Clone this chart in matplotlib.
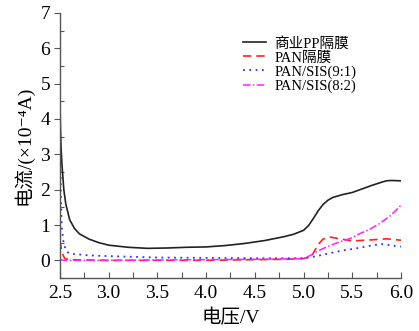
import matplotlib
matplotlib.use("Agg")
import matplotlib.pyplot as plt
from matplotlib.ticker import MultipleLocator

plt.rcParams['font.family'] = ['Liberation Serif', 'Noto Sans CJK SC', 'DejaVu Serif']

labels = ['商业PP隔膜', 'PAN隔膜', 'PAN/SIS(9:1)', 'PAN/SIS(8:2)']

pp_v = [2.5, 2.505, 2.51, 2.52, 2.54, 2.56, 2.6, 2.65, 2.7, 2.8, 2.9, 3.0, 3.2, 3.4, 3.6, 3.8,
        4.0, 4.2, 4.4, 4.6, 4.8, 4.9, 5.0, 5.05, 5.1, 5.15, 5.2, 5.25, 5.3, 5.4, 5.5, 5.6,
        5.7, 5.8, 5.85, 5.9, 6.0]
pp_i = [4.6, 3.8, 3.3, 2.75, 2.0, 1.6, 1.15, 0.9, 0.75, 0.6, 0.5, 0.43, 0.37, 0.34, 0.35, 0.37,
        0.38, 0.42, 0.48, 0.56, 0.67, 0.74, 0.85, 0.98, 1.18, 1.4, 1.58, 1.7, 1.78, 1.86, 1.92, 2.02,
        2.12, 2.21, 2.25, 2.26, 2.25]

pan_v = [2.5, 2.51, 2.52, 2.55, 2.6, 3.0, 3.5, 4.0, 4.5, 4.8, 5.0, 5.07, 5.1, 5.15, 5.2, 5.27,
         5.35, 5.5, 5.7, 5.85, 6.0]
pan_i = [0.55, 0.4, 0.22, 0.05, 0.02, 0.0, 0.0, 0.0, 0.02, 0.03, 0.05, 0.1, 0.2, 0.45, 0.6, 0.66,
         0.62, 0.55, 0.58, 0.61, 0.57]

s91_v = [2.5, 2.505, 2.51, 2.52, 2.54, 2.57, 2.6, 2.8, 3.0, 3.5, 4.0, 4.5, 5.0, 5.1, 5.2, 5.3,
         5.4, 5.5, 5.6, 5.7, 5.8, 5.85, 5.9, 6.0]
s91_i = [4.5, 3.0, 1.8, 0.9, 0.45, 0.25, 0.19, 0.14, 0.12, 0.08, 0.07, 0.06, 0.06, 0.1, 0.16, 0.22,
         0.28, 0.32, 0.37, 0.42, 0.46, 0.45, 0.42, 0.39]

s82_v = [2.5, 2.55, 3.0, 3.5, 4.0, 4.5, 5.0, 5.07, 5.15, 5.27, 5.38, 5.48, 5.58, 5.68, 5.785,
         5.9, 6.0]
s82_i = [0.02, 0.0, 0.0, 0.01, 0.02, 0.03, 0.05, 0.14, 0.27, 0.42, 0.53, 0.62, 0.76, 0.88, 1.05,
         1.28, 1.56]

x_ticks = [2.5, 3.0, 3.5, 4.0, 4.5, 5.0, 5.5, 6.0]
y_ticks = [0, 1, 2, 3, 4, 5, 6, 7]

fig = plt.figure(figsize=(4.19, 3.31), dpi=100)
ax = fig.add_axes([0.143, 0.16, 0.814, 0.801])

ax.plot(pp_v, pp_i, color='#222222', lw=1.2, ls='-', label=labels[0])
ax.plot(pan_v, pan_i, color='#ff2020', lw=1.2, ls=(0, (5, 3)), label=labels[1])
ax.plot(s91_v, s91_i, color='#3030ff', lw=1.3, ls=(0, (1, 2.5)), label=labels[2])
ax.plot(s82_v, s82_i, color='#ff20ff', lw=1.1, ls=(0, (5, 1.5, 1, 1.5)), label=labels[3])

ax.set_xlim(2.5, 6.0)
ax.set_ylim(-0.5, 7)
ax.set_xticks(x_ticks)
ax.set_xticklabels([f'{v:.1f}' for v in x_ticks])
ax.set_yticks(y_ticks)
ax.xaxis.set_minor_locator(MultipleLocator(0.25))
ax.yaxis.set_minor_locator(MultipleLocator(0.5))

for s in ['top', 'right']:
    ax.spines[s].set_visible(False)
for s in ['left', 'bottom']:
    ax.spines[s].set_color('#555555')
    ax.spines[s].set_linewidth(1.0)

ax.tick_params(axis='y', which='major', direction='out', length=4, width=0.8, color='#555555',
               labelsize=14, pad=3)
ax.tick_params(axis='y', which='minor', direction='in', length=3, width=0.8, color='#555555')
ax.tick_params(axis='x', which='both', direction='in', length=4, width=0.8, color='#555555',
               labelsize=14, pad=5)

ax.set_xlabel('电压/V', fontsize=14, labelpad=5)
ax.set_ylabel('电流/(×10⁻⁴A)', fontsize=14, labelpad=5)

ax.legend(loc='upper left', bbox_to_anchor=(0.537, 0.91), frameon=False, fontsize=10.5,
          handlelength=1.6, handletextpad=0.55, labelspacing=0.05, borderaxespad=0.0,
          borderpad=0.0)

fig.savefig('out.png', dpi=100)
